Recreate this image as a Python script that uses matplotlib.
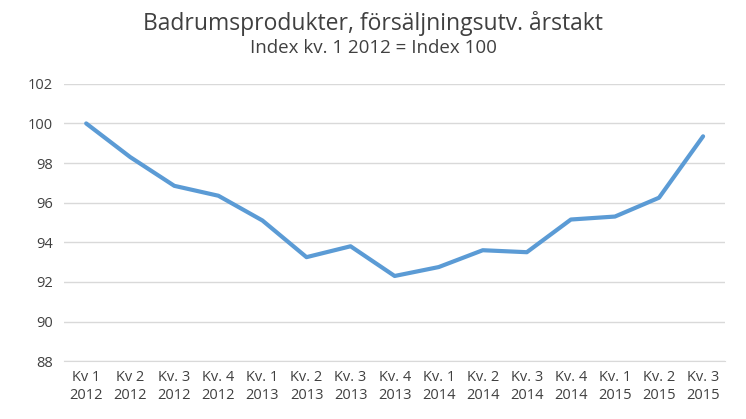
import matplotlib
matplotlib.use("Agg")
import matplotlib.pyplot as plt

plt.rcParams["font.family"] = ["Open Sans", "DejaVu Sans"]

quarters = ["Kv 1", "Kv 2", "Kv. 3", "Kv. 4", "Kv. 1", "Kv. 2", "Kv. 3", "Kv. 4",
            "Kv. 1", "Kv. 2", "Kv. 3", "Kv. 4", "Kv. 1", "Kv. 2", "Kv. 3"]
years = ["2012"] * 4 + ["2013"] * 4 + ["2014"] * 4 + ["2015"] * 3
index_values = [100.0, 98.3, 96.85, 96.35, 95.1, 93.25, 93.8, 92.3,
                92.75, 93.6, 93.5, 95.15, 95.3, 96.25, 99.35]

labels = [f"{q}\n{y}" for q, y in zip(quarters, years)]
xs = list(range(len(index_values)))

fig = plt.figure(figsize=(7.46, 4.19), dpi=100)
ax = fig.add_axes([0.086, 0.138, 0.886, 0.662])
ax.plot(xs, index_values, color="#5b9bd5", linewidth=3, solid_capstyle="round")
ax.set_xlim(-0.5, len(xs) - 0.5)
ax.set_ylim(88, 102)
ax.set_yticks(range(88, 103, 2))
ax.set_xticks(xs)
ax.set_xticklabels(labels, fontsize=10.5, color="#404040", linespacing=1.35)
ax.tick_params(axis="y", labelsize=10.5, colors="#404040", length=0, pad=8)
ax.tick_params(axis="x", length=0, pad=6)
ax.grid(True, axis="y", color="#d9d9d9", linewidth=1)
ax.set_axisbelow(True)
for s in ["top", "right", "left"]:
    ax.spines[s].set_visible(False)
ax.spines["bottom"].set_color("#d9d9d9")

fig.text(0.5, 0.945, "Badrumsprodukter, försäljningsutv. årstakt",
         ha="center", va="center", fontsize=16.5, color="#404040")
fig.text(0.5, 0.885, "Index kv. 1 2012 = Index 100",
         ha="center", va="center", fontsize=13.5, color="#404040")

fig.savefig("out.png", dpi=100)
